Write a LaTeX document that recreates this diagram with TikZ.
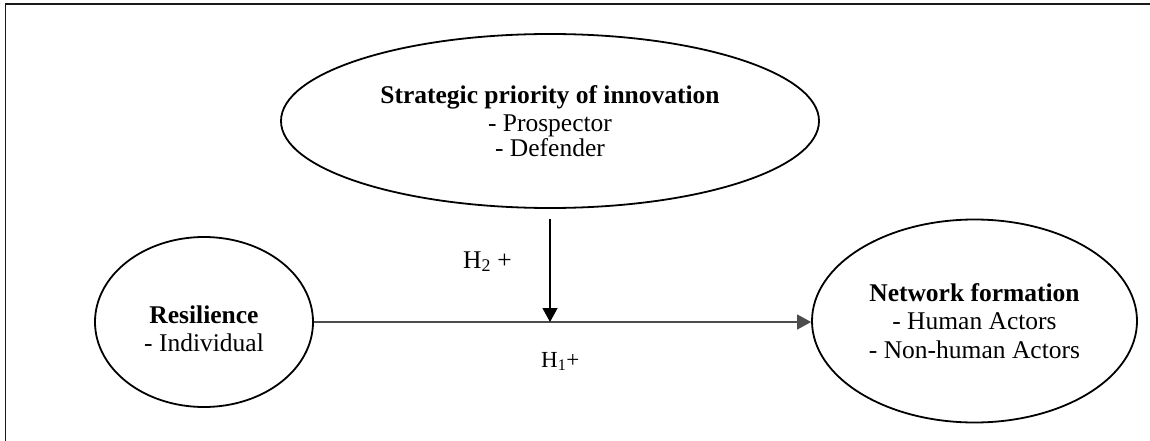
\documentclass[tikz,border=0pt]{standalone}
\usepackage{fontspec}
\setmainfont{Liberation Serif}
\usetikzlibrary{shapes.geometric,arrows.meta}
\tikzset{
  construct/.style={draw=black, line width=1.8pt, ellipse, inner sep=0pt,
    align=center, font=\fontsize{25.5}{28.5}\selectfont},
  ctext/.style={inner sep=0pt, align=center, font=\fontsize{25.5}{28.5}\selectfont},
  link/.style={line width=1.3pt, -{Triangle[length=14pt,width=15pt]}},
  hyp/.style={anchor=base west, inner sep=0pt, font=\fontsize{25.5}{28.5}\selectfont},
  frameline/.style={line width=1.6pt, black!90},
}
\begin{document}
\begin{tikzpicture}[x=1pt,y=-1pt]
\useasboundingbox (0,0) rectangle (1150,441);
\draw[frameline] (5.5,441) -- (5.5,4.2) -- (1150,4.2);
\node[construct, minimum width=538pt, minimum height=174pt] (strat) at (550,121)
  {\textbf{Strategic priority of innovation}\\ - Prospector\\[-4pt] - Defender};
\node[construct, minimum width=218pt, minimum height=170pt] (res) at (204,322) {};
\node[ctext] (restext) at (204,329) {\textbf{Resilience}\\ - Individual};
\node[construct, minimum width=325pt, minimum height=203pt] (net) at (974.5,321)
  {\textbf{Network formation}\\ - Human Actors\\ - Non-human Actors};
\coordinate (m) at (strat.south |- res.east);
\draw[link, black!70] (res.east) -- (res.east -| net.west);
\draw[link, shorten <=10pt] (strat.south) -- (m);
\node[hyp] (h2) at (463,268) {H\textsubscript{2} +};
\node[hyp, font=\fontsize{23}{26}\selectfont] (h1) at (541,367) {H\textsubscript{1}+};
\end{tikzpicture}
\end{document}
